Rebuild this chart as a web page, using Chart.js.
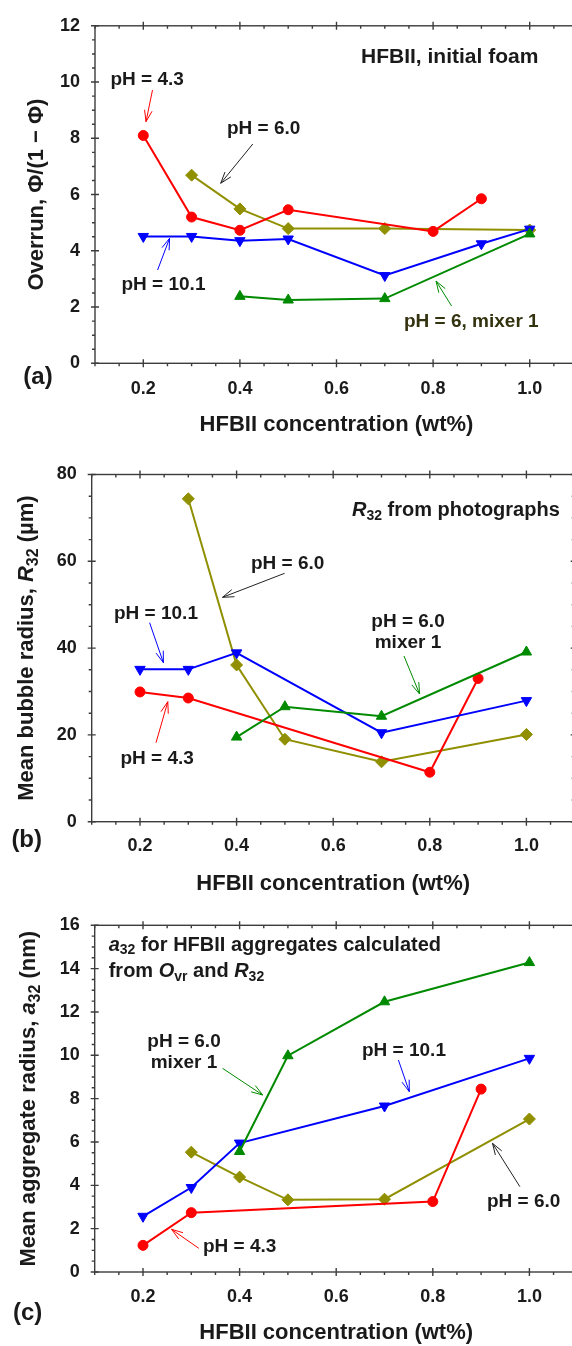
<!DOCTYPE html>
<html>
<head>
<meta charset="utf-8">
<script src="https://cdn.jsdelivr.net/npm/chart.js@4.4.1/dist/chart.umd.min.js"></script>
<style>
  html, body { margin: 0; padding: 0; background: #fff; overflow: hidden; width: 572px; height: 1346px; }
  canvas { position: absolute; left: 0; }
</style>
</head>
<body>
<canvas id="chartA" width="600" height="470" style="top:0px"></canvas>
<canvas id="chartB" width="600" height="470" style="top:440px"></canvas>
<canvas id="chartC" width="600" height="466" style="top:880px"></canvas>
<script>
// ---- data ----
const xTicks = [0.2, 0.4, 0.6, 0.8, 1.0];
const yTicksA = [0, 2, 4, 6, 8, 10, 12];
const yTicksB = [0, 20, 40, 60, 80];
const yTicksC = [0, 2, 4, 6, 8, 10, 12, 14, 16];

// (a) overrun, Phi/(1-Phi)
const overrunX43 = [0.2, 0.3, 0.4, 0.5, 0.8, 0.9];
const overrun43 = [8.1, 5.2, 4.73, 5.46, 4.69, 5.85];
const overrunX60 = [0.3, 0.4, 0.5, 0.7, 1.0];
const overrun60 = [6.69, 5.49, 4.79, 4.79, 4.74];
const overrunX101 = [0.2, 0.3, 0.4, 0.5, 0.7, 0.9, 1.0];
const overrun101 = [4.51, 4.51, 4.36, 4.42, 3.12, 4.25, 4.77];
const overrunXMix = [0.4, 0.5, 0.7, 1.0];
const overrunMix = [2.38, 2.25, 2.3, 4.6];

// (b) mean bubble radius R32 (um)
const radiusX43 = [0.2, 0.3, 0.8, 0.9];
const radius43 = [29.9, 28.5, 11.4, 33.0];
const radiusX60 = [0.3, 0.4, 0.5, 0.7, 1.0];
const radius60 = [74.4, 36.1, 19.0, 13.8, 20.1];
const radiusX101 = [0.2, 0.3, 0.4, 0.7, 1.0];
const radius101 = [35.1, 35.1, 38.9, 20.5, 27.9];
const radiusXMix = [0.4, 0.5, 0.7, 1.0];
const radiusMix = [19.5, 26.5, 24.3, 39.1];

// (c) mean aggregate radius a32 (nm)
const aggX43 = [0.2, 0.3, 0.8, 0.9];
const agg43 = [1.23, 2.74, 3.25, 8.44];
const aggX60 = [0.3, 0.4, 0.5, 0.7, 1.0];
const agg60 = [5.53, 4.38, 3.33, 3.36, 7.06];
const aggX101 = [0.2, 0.3, 0.4, 0.7, 1.0];
const agg101 = [2.57, 3.9, 5.95, 7.66, 9.86];
const aggXMix = [0.4, 0.5, 0.7, 1.0];
const aggMix = [5.56, 9.98, 12.47, 14.28];

// ---- styling ----
const FAMILY = '"Liberation Sans", Arial, sans-serif';
const AXIS = '#3c3c3c';
const INK = '#1a1a1a';
const RED = '#ff0000', BLUE = '#0000ff', GREEN = '#008a00', OLIVE = '#8f8f00';

function pts(xs, ys) { return xs.map((x, i) => ({ x: x, y: ys[i] })); }

function series(label, xs, ys, color, style, radius, rot) {
  return {
    label: label,
    data: pts(xs, ys),
    borderColor: color,
    backgroundColor: color,
    borderWidth: 2,
    pointStyle: style,
    pointRadius: radius,
    pointRotation: rot || 0,
    pointBorderWidth: 1,
    tension: 0,
    fill: false
  };
}

function T(t, f) { return { t: t, f: f || '' }; }

function fontOf(seg, size) {
  const s = seg.f === 's' ? Math.round(size * 0.72) : size;
  return (seg.f === 'i' ? 'italic ' : '') + 'bold ' + s + 'px ' + FAMILY;
}

function drawRich(ctx, segs, x, y, size, align) {
  let w = 0;
  segs.forEach(s => { ctx.font = fontOf(s, size); w += ctx.measureText(s.t).width; });
  let cx = align === 'center' ? x - w / 2 : x;
  ctx.textAlign = 'left';
  ctx.textBaseline = 'middle';
  segs.forEach(s => {
    ctx.font = fontOf(s, size);
    ctx.fillText(s.t, cx, y + (s.f === 's' ? size * 0.28 : 0));
    cx += ctx.measureText(s.t).width;
  });
}

function arrow(ctx, x1, y1, x2, y2, color) {
  const ang = Math.atan2(y2 - y1, x2 - x1);
  const L = 12, spread = 0.32;
  ctx.save();
  ctx.strokeStyle = color;
  ctx.lineWidth = 1;
  ctx.beginPath();
  ctx.moveTo(x1, y1); ctx.lineTo(x2, y2);
  ctx.moveTo(x2 - L * Math.cos(ang - spread), y2 - L * Math.sin(ang - spread));
  ctx.lineTo(x2, y2);
  ctx.lineTo(x2 - L * Math.cos(ang + spread), y2 - L * Math.sin(ang + spread));
  ctx.stroke();
  ctx.restore();
}

function near(list, v) { return list.some(t => Math.abs(t - v) < 1e-6); }

function decor(spec) {
  return {
    id: 'decor' + spec.letter,
    beforeDatasetsDraw(chart) {
      const ctx = chart.ctx, a = chart.chartArea;
      const xs = chart.scales.x, ys = chart.scales.y;
      ctx.save();
      ctx.strokeStyle = AXIS;
      ctx.lineWidth = 1.4;
      ctx.strokeRect(a.left, a.top, a.right - a.left, a.bottom - a.top);
      ctx.beginPath();
      for (let k = 0; ; k++) {
        const v = xs.min + k * 0.05;
        if (v > xs.max + 1e-9) break;
        const p = xs.getPixelForValue(v);
        if (near(xTicks, v)) {
          ctx.moveTo(p, a.bottom - 4); ctx.lineTo(p, a.bottom + 4);
          ctx.moveTo(p, a.top - 4); ctx.lineTo(p, a.top + 4);
        } else {
          ctx.moveTo(p, a.bottom); ctx.lineTo(p, a.bottom + 3);
          ctx.moveTo(p, a.top); ctx.lineTo(p, a.top + 3);
        }
      }
      for (let k = 0; ; k++) {
        const v = ys.min + k * spec.yMinor;
        if (v > ys.max + 1e-9) break;
        const p = ys.getPixelForValue(v);
        if (near(spec.yTicks, v)) {
          ctx.moveTo(a.left - 4, p); ctx.lineTo(a.left + 4, p);
          ctx.moveTo(a.right - 4, p); ctx.lineTo(a.right + 4, p);
        } else {
          ctx.moveTo(a.left - 3, p); ctx.lineTo(a.left, p);
          ctx.moveTo(a.right - 3, p); ctx.lineTo(a.right, p);
        }
      }
      ctx.stroke();
      ctx.restore();
    },
    afterDatasetsDraw(chart) {
      const ctx = chart.ctx, a = chart.chartArea;
      ctx.save();
      ctx.fillStyle = INK;
      // axis titles
      drawRich(ctx, [T('HFBII concentration (wt%)')], (a.left + a.right) / 2, spec.xTitleY, 22, 'center');
      ctx.save();
      ctx.translate(spec.yTitleX, (a.top + a.bottom) / 2);
      ctx.rotate(-Math.PI / 2);
      drawRich(ctx, spec.yTitle, 0, 0, 22, 'center');
      ctx.restore();
      // panel letter
      drawRich(ctx, [T('(' + spec.letter + ')')], spec.letterX, spec.letterY, 24, 'center');
      // notes and arrows
      spec.notes.forEach(n => {
        ctx.fillStyle = n.color || INK;
        drawRich(ctx, n.segs, n.x, n.y, n.size || 19, n.align || 'left');
      });
      spec.arrows.forEach(r => arrow(ctx, r[0], r[1], r[2], r[3], r[4]));
      ctx.restore();
    }
  };
}

function makeChart(id, spec, datasets) {
  const H = document.getElementById(id).height;
  return new Chart(document.getElementById(id), {
    type: 'line',
    data: { datasets: datasets },
    options: {
      responsive: false,
      animation: false,
      events: [],
      layout: {
        padding: { left: 0, top: spec.area.top, right: 600 - spec.area.right, bottom: H - spec.area.bottom - 40 }
      },
      plugins: { legend: { display: false }, tooltip: { enabled: false } },
      scales: {
        x: {
          type: 'linear',
          min: 0.1, max: 1.1,
          grid: { display: false, drawTicks: false },
          border: { display: false },
          afterBuildTicks: s => { s.ticks = xTicks.map(v => ({ value: v })); },
          afterFit: s => { s.height = 40; },
          ticks: {
            autoSkip: false, maxRotation: 0,
            padding: spec.xPad,
            color: INK,
            font: { family: FAMILY, size: 18, weight: 'bold', lineHeight: 1.2 },
            callback: v => v.toFixed(1)
          }
        },
        y: {
          type: 'linear',
          min: spec.yTicks[0], max: spec.yTicks[spec.yTicks.length - 1],
          grid: { display: false, drawTicks: false },
          border: { display: false },
          afterBuildTicks: s => { s.ticks = spec.yTicks.map(v => ({ value: v })); },
          afterFit: s => { s.width = spec.area.left; },
          ticks: {
            padding: 15,
            color: INK,
            font: { family: FAMILY, size: 18, weight: 'bold', lineHeight: 1.2 },
            callback: v => String(v)
          }
        }
      }
    },
    plugins: [decor(spec)]
  });
}

// ---- panel (a) ----
makeChart('chartA', {
  letter: 'a', letterX: 38, letterY: 377,
  area: { left: 95, top: 17.3, right: 578, bottom: 363.3 },
  yTicks: yTicksA, yMinor: 0.5, xPad: 15,
  xTitleY: 425, yTitleX: 36.5,
  yTitle: [T('Overrun, \u03A6/(1 \u2212 \u03A6)')],
  notes: [
    { segs: [T('HFBII, initial foam')], x: 361, y: 57, size: 21 },
    { segs: [T('pH = 4.3')], x: 110.5, y: 80 },
    { segs: [T('pH = 6.0')], x: 227, y: 128.3 },
    { segs: [T('pH = 10.1')], x: 121.5, y: 285 },
    { segs: [T('pH = 6, mixer 1')], x: 404, y: 321.7, color: '#333310' }
  ],
  arrows: [
    [152.5, 90, 146, 121.7, RED],
    [252.8, 144, 220.7, 183.3, '#222222'],
    [157.6, 270, 169.6, 238.3, BLUE],
    [451.6, 306, 436, 281, GREEN]
  ]
}, [
  series('pH = 6, mixer 1', overrunXMix, overrunMix, GREEN, 'triangle', 6),
  series('pH = 10.1', overrunX101, overrun101, BLUE, 'triangle', 6, 180),
  series('pH = 4.3', overrunX43, overrun43, RED, 'circle', 5),
  series('pH = 6.0', overrunX60, overrun60, OLIVE, 'rectRot', 6)
]);

// ---- panel (b) ----
makeChart('chartB', {
  letter: 'b', letterX: 26.7, letterY: 400,
  area: { left: 91.7, top: 34.5, right: 574.7, bottom: 381.7 },
  yTicks: yTicksB, yMinor: 5, xPad: 14,
  xTitleY: 444, yTitleX: 27,
  yTitle: [T('Mean bubble radius, '), T('R', 'i'), T('32', 's'), T(' (\u00B5m)')],
  notes: [
    { segs: [T('R', 'i'), T('32', 's'), T(' from photographs')], x: 352, y: 70.7, size: 20 },
    { segs: [T('pH = 6.0')], x: 251, y: 123.3 },
    { segs: [T('pH = 10.1')], x: 114, y: 174 },
    { segs: [T('pH = 6.0')], x: 408, y: 181.7, align: 'center' },
    { segs: [T('mixer 1')], x: 408, y: 202.7, align: 'center' },
    { segs: [T('pH = 4.3')], x: 120.4, y: 318.3 }
  ],
  arrows: [
    [284.6, 133.3, 222.5, 157.3, '#222222'],
    [149.6, 182.7, 163.4, 222.7, BLUE],
    [404, 216, 419.6, 254, GREEN],
    [156, 302.7, 167.8, 261.7, RED]
  ]
}, [
  series('pH = 6.0, mixer 1', radiusXMix, radiusMix, GREEN, 'triangle', 6),
  series('pH = 10.1', radiusX101, radius101, BLUE, 'triangle', 6, 180),
  series('pH = 4.3', radiusX43, radius43, RED, 'circle', 5),
  series('pH = 6.0', radiusX60, radius60, OLIVE, 'rectRot', 6)
]);

// ---- panel (c) ----
makeChart('chartC', {
  letter: 'c', letterX: 27.7, letterY: 433,
  area: { left: 94.7, top: 45.3, right: 577.7, bottom: 392 },
  yTicks: yTicksC, yMinor: 0.5, xPad: 14,
  xTitleY: 453.3, yTitleX: 29,
  yTitle: [T('Mean aggregate radius, '), T('a', 'i'), T('32', 's'), T(' (nm)')],
  notes: [
    { segs: [T('a', 'i'), T('32', 's'), T(' for HFBII aggregates calculated')], x: 108.7, y: 65, size: 20 },
    { segs: [T('from '), T('O', 'i'), T('vr', 's'), T(' and '), T('R', 'i'), T('32', 's')], x: 108.7, y: 91.7, size: 20 },
    { segs: [T('pH = 6.0')], x: 184, y: 161.7, align: 'center' },
    { segs: [T('mixer 1')], x: 184, y: 182.7, align: 'center' },
    { segs: [T('pH = 10.1')], x: 362, y: 170.7 },
    { segs: [T('pH = 6.0')], x: 487, y: 321.7 },
    { segs: [T('pH = 4.3')], x: 203, y: 366.7 }
  ],
  arrows: [
    [222.5, 188.3, 262.7, 215, GREEN],
    [398.4, 180, 409.3, 211.7, BLUE],
    [519.9, 306.7, 492.5, 263.3, '#222222'],
    [198.8, 368.3, 171.5, 349.3, RED]
  ]
}, [
  series('pH = 6.0, mixer 1', aggXMix, aggMix, GREEN, 'triangle', 6),
  series('pH = 10.1', aggX101, agg101, BLUE, 'triangle', 6, 180),
  series('pH = 4.3', aggX43, agg43, RED, 'circle', 5),
  series('pH = 6.0', aggX60, agg60, OLIVE, 'rectRot', 6)
]);
</script>
</body>
</html>
